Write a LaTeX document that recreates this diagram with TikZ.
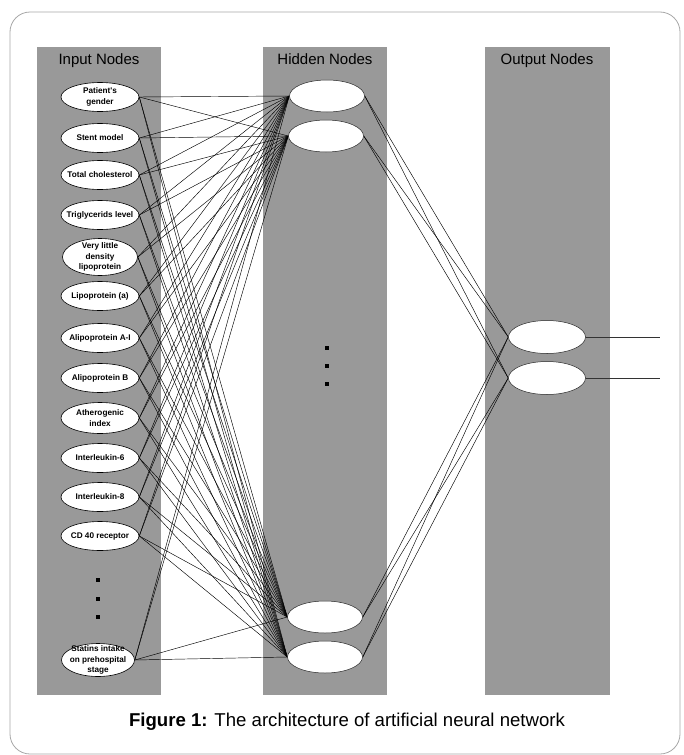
\documentclass[tikz,border=0pt]{standalone}
\usepackage{fontspec}
\setmainfont{Liberation Sans}
\usetikzlibrary{shapes.geometric}
\pgfdeclarelayer{back}
\pgfdeclarelayer{links}
\pgfsetlayers{back,links,main}
\definecolor{colgray}{HTML}{999999}
\definecolor{framegray}{HTML}{A8A8A8}
\tikzset{
  column/.style={fill=colgray, draw=none},
  header/.style={font=\fontsize{15}{18}\selectfont, anchor=base, inner sep=0pt},
  inbox/.style={ellipse, draw=black, fill=white, line width=0.6pt, minimum width=78pt, minimum height=29pt, inner sep=0pt},
  intext/.style={font=\bfseries\fontsize{8.2}{10.7}\selectfont, align=center, inner sep=0pt},
  hidbox/.style={ellipse, draw=black!85, fill=white, line width=0.5pt, minimum width=75pt, minimum height=32pt, inner sep=0pt},
  outbox/.style={ellipse, draw=black!85, fill=white, line width=0.5pt, minimum width=77pt, minimum height=33pt, inner sep=0pt},
  link/.style={draw=black, line width=0.45pt},
  outlink/.style={draw=black!80, line width=0.9pt},
  dotmark/.style={fill=black}
}
\begin{document}
\begin{tikzpicture}[x=1pt,y=-1pt]
\useasboundingbox (0,0) rectangle (683,755);

\begin{pgfonlayer}{back}
  \fill[white] (0,0) rectangle (683,755);
  \draw[framegray, line width=0.8pt, rounded corners=20pt] (10,12) rectangle (680,754);
  \fill[column] (37,47) rectangle (161,695);
  \fill[column] (263,47) rectangle (387,695);
  \fill[column] (485,47) rectangle (610,695);
\end{pgfonlayer}

\node[header] (hin) at (99,64) {Input Nodes};
\node[header] (hhid) at (325,64) {Hidden Nodes};
\node[header] (hout) at (547,64) {Output Nodes};

% input nodes
\node[inbox] (i1) at (100,97) {};
\node[intext] (t1) at (i1) {Patient\textquotesingle s\\gender};
\node[inbox] (i2) at (100,138) {};
\node[intext] (t2) at (i2) {Stent model};
\node[inbox] (i3) at (100,175) {};
\node[intext] (t3) at (i3) {Total cholesterol};
\node[inbox] (i4) at (100,215) {};
\node[intext] (t4) at (i4) {Triglycerids level};
\node[inbox, minimum width=75pt, minimum height=37pt] (i5) at (100,257) {};
\node[intext] (t5) at (i5) {Very little\\density\\lipoprotein};
\node[inbox] (i6) at (100,296) {};
\node[intext] (t6) at (i6) {Lipoprotein (a)};
\node[inbox] (i7) at (100,338) {};
\node[intext] (t7) at (i7) {Alipoprotein A-I};
\node[inbox] (i8) at (100,378) {};
\node[intext] (t8) at (i8) {Alipoprotein B};
\node[inbox, minimum height=31pt] (i9) at (100,418) {};
\node[intext] (t9) at (i9) {Atherogenic\\index};
\node[inbox] (i10) at (100,458) {};
\node[intext] (t10) at (i10) {Interleukin-6};
\node[inbox] (i11) at (100,497) {};
\node[intext] (t11) at (i11) {Interleukin-8};
\node[inbox] (i12) at (100,536) {};
\node[intext] (t12) at (i12) {CD 40 receptor};
\node[inbox, minimum width=73pt, minimum height=33pt] (i13) at (98,660) {};
\node[intext] (t13) at (i13) {Statins intake\\on prehospital\\stage};

% hidden nodes
\node[hidbox] (h1) at (327,96) {};
\node[hidbox] (h2) at (326,136) {};
\node[hidbox] (h3) at (325,617) {};
\node[hidbox] (h4) at (325,657) {};

% output nodes
\node[outbox] (o1) at (547,337) {};
\node[outbox] (o2) at (547,378) {};
\coordinate (e1) at (660,337);
\coordinate (e2) at (660,378);

% ellipsis dots
\foreach \y in {580,599,617} {\fill[dotmark] (96,\y-2) rectangle (100,\y+2);}
\foreach \y in {348,366,384} {\fill[dotmark] (325,\y-2) rectangle (329,\y+2);}

\begin{pgfonlayer}{links}
  \foreach \i in {1,...,13} {
    \foreach \h in {h1,h2,h3,h4} {
      \draw[link] (i\i.east) -- (\h.west);
    }
  }
  \foreach \h in {h1,h2,h3,h4} {
    \foreach \o in {o1,o2} {
      \draw[link] (\h.east) -- (\o.west);
    }
  }
  \draw[outlink] (o1.east) -- (e1);
  \draw[outlink] (o2.east) -- (e2);
\end{pgfonlayer}

\node[font=\fontsize{18.6}{22}\selectfont, anchor=base, inner sep=0pt] (cap) at (347,726) {\textbf{Figure 1:} The architecture of artificial neural network};
\end{tikzpicture}
\end{document}
